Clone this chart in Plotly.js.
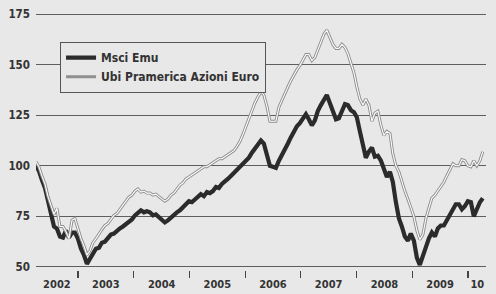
<!DOCTYPE html>
<html>
<head>
<meta charset="utf-8">
<script src="https://cdn.plot.ly/plotly-3.0.1.min.js"></script>
<style>
html,body{margin:0;padding:0;background:#e8e8e8;}
#chart{width:496px;height:294px;}
</style>
</head>
<body>
<div id="chart"></div>
<script>
// Series sampled about every 20 days, from end of March 2002 to April 2010
var seriesStart = '2002-03-31';
var stepDays = 19.67;

var msciEmu = [
100,97.5,93,89,83,76,70,69,65,64.5,68,64.5,67,67,64,59,56,51.5,54,57,
59,59.5,62,62.5,64.5,66,66.5,68,69,70,71,72,73.5,75.5,77,78,77,77.5,77,75.5,
76,74.5,73.5,72,73,74.5,76,77,78,79.5,81,82.5,82,83.5,85,86,85,87,86.5,87.5,
89.5,89,91,92,93.5,95,96.5,98,99.5,101,102,104,106.5,108.5,110.5,112.5,111,106,100,99.5,
99,102.5,105,108,111,114,117,119.5,121,123,125.5,123,120,122.5,127,130,133,135,131,127,
123,123.5,127.5,130.5,130,127.5,126.5,124,117,111,104,107,109,104.5,105,102.5,98,94.5,97,92,
82,74,70,65,63,66.5,63,54.5,51,56,60.5,64,67,65,69,70.5,70.5,73,76,78.5,
81,81,78.5,80,82.5,82,75,78.5,82,84
];

var ubiPramerica = [
102,99.5,95,91,85,80,76,79,70,70,67.5,64,73,74,69,64,60.5,56,58,62,
64,66.5,68.5,70.5,71.5,73.5,75.5,76.5,78.5,80.5,82.5,84.5,85.5,87.5,88.5,87,87.5,86.5,86.5,85.5,
86,84.5,83.5,82.5,83.5,85.5,86.5,88.5,90.5,91.5,93.5,94.5,95.5,96.5,97.5,98.5,99.5,99.5,100.5,101.5,
102.5,103.5,103.5,104.5,105.5,106.5,107.5,109.5,112,115.5,119.5,123.5,127.5,131,134,136.5,135,129.5,122,122,
122,129,132.5,135.5,139,142,145,147.5,149.5,152,155,155,152,153.5,157.5,161.5,165,167,163,160,
158,158,160,158.5,155.5,150.5,146,139,133,130,133,130,122,126,127,120,115,117,116,106,
100,97,92,87.5,83.5,79.5,75,68,63.5,66,74,79,84,85.5,87.5,89.5,92,95,98,101,
100,100,103,102.5,100,99.5,102.5,100,102.5,107
];

var yTicks = [50, 75, 100, 125, 150, 175];
var yearStarts = ['2003-01-01','2004-01-01','2005-01-01','2006-01-01','2007-01-01','2008-01-01','2009-01-01','2010-01-01'];
var xLabelPos = ['2002-08-15','2003-07-02','2004-07-02','2005-07-02','2006-07-02','2007-07-02','2008-07-02','2009-07-02','2010-03-03'];
var xLabelText = ['2002','2003','2004','2005','2006','2007','2008','2009','10'];

function datesFor(n){
  var t0 = Date.parse(seriesStart + 'T00:00:00Z');
  var out = [];
  for (var i = 0; i < n; i++) {
    out.push(new Date(t0 + i * stepDays * 86400000).toISOString().slice(0,10));
  }
  return out;
}

var xM = datesFor(msciEmu.length);
var xU = datesFor(ubiPramerica.length);

var FONT = '"DejaVu Sans Condensed", "Liberation Sans Narrow", "Arial Narrow", sans-serif';
var BG = '#e8e8e8';

var traces = [
  {x: xM, y: msciEmu, type: 'scatter', mode: 'lines', name: 'Msci Emu',
   line: {color: '#2b2b2b', width: 4.2}},
  {x: xU, y: ubiPramerica, type: 'scatter', mode: 'lines', name: 'Ubi Pramerica Azioni Euro',
   legendgroup: 'ubi', line: {color: '#8f8f8f', width: 3}},
  {x: xU, y: ubiPramerica, type: 'scatter', mode: 'lines', name: 'Ubi Pramerica Azioni Euro',
   legendgroup: 'ubi', showlegend: false, line: {color: '#ffffff', width: 1.1}}
];

var layout = {
  width: 496, height: 294,
  margin: {l: 36, r: 10, t: 12, b: 24},
  paper_bgcolor: BG, plot_bgcolor: BG,
  showlegend: true,
  legend: {
    x: 0.053, y: 0.884, xanchor: 'left', yanchor: 'top',
    bgcolor: BG, bordercolor: '#555', borderwidth: 1.2,
    font: {family: FONT, size: 12, color: '#333', weight: 'bold'},
    tracegroupgap: 0, itemwidth: 30
  },
  xaxis: {
    type: 'date',
    range: ['2002-03-31', '2010-04-29'],
    showgrid: false, zeroline: false, showline: false,
    tickmode: 'array', tickvals: xLabelPos, ticktext: xLabelText,
    ticks: '', ticklabelstandoff: 6,
    tickfont: {family: FONT, size: 11, color: '#333', weight: 'bold'},
    minor: {tickmode: 'array', tickvals: yearStarts, ticks: 'outside', ticklen: 7,
            tickwidth: 1.2, tickcolor: '#444', showgrid: false},
    fixedrange: true
  },
  yaxis: {
    range: [48.5, 176],
    tickmode: 'array', tickvals: yTicks,
    showgrid: true, gridcolor: '#5e5e5e', gridwidth: 1,
    zeroline: false, showline: false, ticks: '',
    ticklabelstandoff: 5,
    tickfont: {family: FONT, size: 11.5, color: '#333', weight: 'bold'},
    fixedrange: true
  }
};

Plotly.newPlot('chart', traces, layout, {displayModeBar: false, staticPlot: true});
</script>
</body>
</html>
